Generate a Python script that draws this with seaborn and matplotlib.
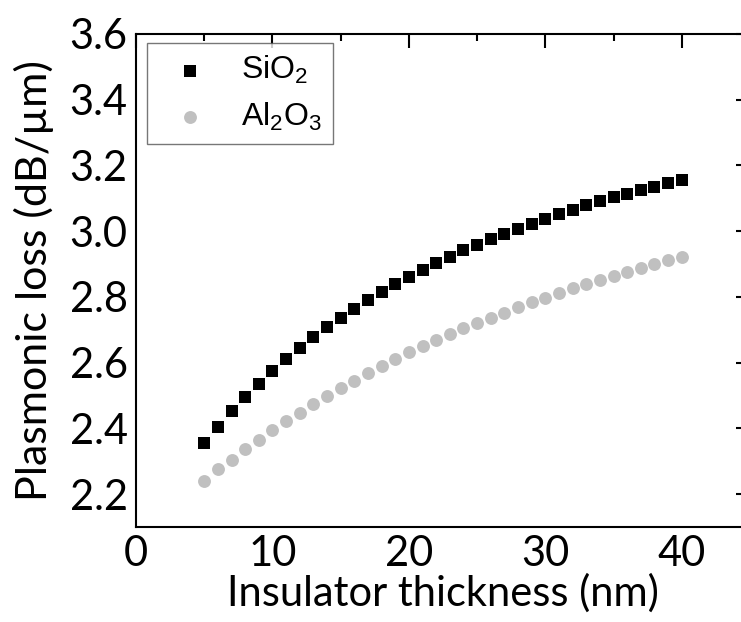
import numpy as np
import pandas as pd
import seaborn as sns
import matplotlib.pyplot as plt
from matplotlib.ticker import MultipleLocator

thickness = list(range(5, 41))

sio2 = [2.355, 2.404, 2.452, 2.495, 2.535, 2.574, 2.610, 2.645, 2.677, 2.707,
        2.735, 2.763, 2.790, 2.814, 2.838, 2.861, 2.882, 2.902, 2.922, 2.942,
        2.958, 2.977, 2.992, 3.008, 3.023, 3.038, 3.052, 3.066, 3.079, 3.091,
        3.103, 3.114, 3.126, 3.136, 3.146, 3.157]

al2o3 = [2.239, 2.275, 2.305, 2.336, 2.366, 2.394, 2.422, 2.448, 2.475, 2.498,
         2.522, 2.545, 2.568, 2.589, 2.611, 2.631, 2.651, 2.670, 2.687, 2.704,
         2.720, 2.737, 2.752, 2.768, 2.784, 2.798, 2.812, 2.826, 2.839, 2.852,
         2.864, 2.877, 2.889, 2.901, 2.911, 2.921]

df = pd.DataFrame({"thickness": thickness, "SiO2": sio2, "Al2O3": al2o3})

sns.set_style("white")
plt.rcParams["font.family"] = ["Lato", "DejaVu Sans"]
plt.rcParams["mathtext.fontset"] = "custom"
plt.rcParams["mathtext.rm"] = "Liberation Sans"
plt.rcParams["text.color"] = "black"
plt.rcParams["axes.labelcolor"] = "black"
plt.rcParams["xtick.color"] = "black"
plt.rcParams["ytick.color"] = "black"

fig = plt.figure(figsize=(7.41, 6.22), dpi=100)
ax = fig.add_axes([136 / 741, 1 - 527 / 622, 614 / 741, 493 / 622])

sns.scatterplot(data=df, x="thickness", y="SiO2", marker="s", color="black",
                s=64, linewidth=0, label=r"SiO$_{\mathrm{2}}$", ax=ax)
sns.scatterplot(data=df, x="thickness", y="Al2O3", marker="o", color="#c0c0c0",
                s=86, linewidth=0, label=r"Al$_{\mathrm{2}}$O$_{\mathrm{3}}$", ax=ax)

ax.set_xlim(0, 45)
ax.set_ylim(2.1, 3.6)
ax.xaxis.set_major_locator(MultipleLocator(10))
ax.xaxis.set_minor_locator(MultipleLocator(5))
ax.yaxis.set_minor_locator(MultipleLocator(0.1))
ax.set_yticks(np.arange(2.2, 3.61, 0.2))
ax.yaxis.set_major_formatter(plt.FormatStrFormatter("%.1f"))

ax.tick_params(which="both", direction="in", top=True, right=True,
               labelsize=30, width=1.5)
ax.tick_params(which="major", length=10, pad=6)
ax.tick_params(which="minor", length=5)
for sp in ax.spines.values():
    sp.set_linewidth(1.5)
    sp.set_color("black")

ax.set_xlabel("Insulator thickness (nm)", fontsize=30, labelpad=0)
ax.set_ylabel("Plasmonic loss (dB/µm)", fontsize=31, labelpad=11)

leg = ax.legend(loc="upper left", bbox_to_anchor=(0.018, 0.982),
                prop={"family": "Liberation Sans", "size": 23},
                frameon=True, fancybox=False, edgecolor="#555555",
                borderpad=0.35, handletextpad=0.6, labelspacing=0.45,
                markerscale=1.0, borderaxespad=0)
leg.get_frame().set_linewidth(1.0)

fig.savefig("out.png", dpi=100)
